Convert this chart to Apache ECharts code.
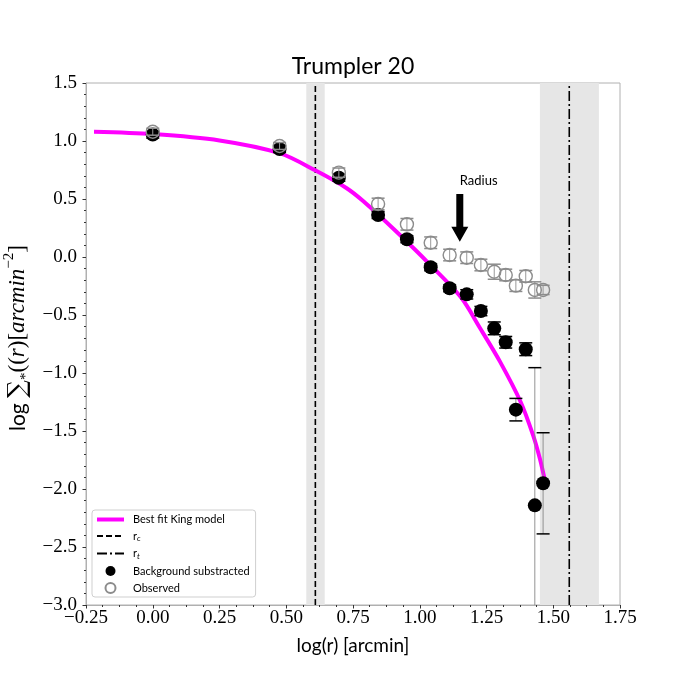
<!DOCTYPE html>
<html lang="en">
<head>
    <meta charset="UTF-8">
    <title>Trumpler 20</title>
    <script src="https://cdn.jsdelivr.net/npm/echarts@6/dist/echarts.min.js"></script>
    <style>
        html, body { margin: 0; padding: 0; background: #fff; }
        #main { width: 689px; height: 689px; }
    </style>
</head>
<body>
<div id="main"></div>
<script>
    // radial profile, x = log(r) [arcmin]
    var logR = [0.0, 0.475, 0.697, 0.844, 0.952, 1.041, 1.112, 1.176, 1.229, 1.279, 1.322, 1.36, 1.397, 1.431, 1.462];
    // background substracted density + errors
    var bgSub = [1.055, 0.931, 0.683, 0.362, 0.153, -0.089, -0.270, -0.322, -0.466, -0.615, -0.735, -1.316, -0.795, -2.141, -1.951];
    var bgSubErr = [0.03, 0.03, 0.03, 0.03, 0.03, 0.03, 0.03, 0.04, 0.04, 0.055, 0.05, 0.097, 0.055, 1.187, 0.436];
    // observed density + errors
    var observed = [1.08, 0.957, 0.727, 0.457, 0.282, 0.123, 0.017, -0.006, -0.069, -0.127, -0.155, -0.247, -0.166, -0.284, -0.284];
    var observedErr = [0.03, 0.03, 0.04, 0.05, 0.05, 0.05, 0.05, 0.05, 0.05, 0.065, 0.05, 0.05, 0.05, 0.07, 0.04];

    // King model curve
    var kingX = [-0.22, 0.0, 0.25, 0.475, 0.61, 0.725, 0.789, 0.914, 1.038, 1.155, 1.225, 1.30, 1.378, 1.425, 1.45, 1.47];
    var kingY = [1.08, 1.06, 1.005, 0.895, 0.745, 0.595, 0.48, 0.215, -0.065, -0.35, -0.61, -0.9, -1.25, -1.54, -1.74, -1.94];

    // core / tidal radius and their uncertainty bands
    var rc = [0.609, 0.575, 0.644];
    var rt = [1.560, 1.450, 1.671];
    // "Radius" arrow: x, start y, tip y, text y
    var radiusArrow = [1.15, 0.543, 0.132, 0.655];

    var xTicks = [-0.25, 1.75, 0.25];
    var yTicks = [-3.0, 1.5, 0.5];

    function minus(s) { return s.replace('-', '\u2212'); }

    var blackPts = logR.map(function (x, i) { return [x, bgSub[i]]; });
    var obsPts = logR.map(function (x, i) { return [x, observed[i]]; });
    var blackErr = logR.map(function (x, i) { return [x, bgSub[i], bgSubErr[i]]; });
    var obsErrData = logR.map(function (x, i) { return [x, observed[i], observedErr[i]]; });
    var kingPts = kingX.map(function (x, i) { return [x, kingY[i]]; });

    function errorBar(lineColor, lineW, capColor, capW, capHalf) {
        return function (params, api) {
            var x = api.value(0), y = api.value(1), e = api.value(2);
            var hi = Math.min(y + e, yTicks[1]);
            var lo = Math.max(y - e, yTicks[0]);
            var pHi = api.coord([x, hi]);
            var pLo = api.coord([x, lo]);
            var kids = [{
                type: 'line',
                shape: {x1: pHi[0], y1: pHi[1], x2: pLo[0], y2: pLo[1]},
                style: {stroke: lineColor, lineWidth: lineW}
            }];
            if (y + e <= yTicks[1]) {
                kids.push({type: 'line', shape: {x1: pHi[0] - capHalf, y1: pHi[1], x2: pHi[0] + capHalf, y2: pHi[1]},
                    style: {stroke: capColor, lineWidth: capW}});
            }
            if (y - e >= yTicks[0]) {
                kids.push({type: 'line', shape: {x1: pLo[0] - capHalf, y1: pLo[1], x2: pLo[0] + capHalf, y2: pLo[1]},
                    style: {stroke: capColor, lineWidth: capW}});
            }
            return {type: 'group', children: kids};
        };
    }

    var myChart = echarts.init(document.getElementById('main'));

    var option = {
        animation: false,
        backgroundColor: '#fff',
        grid: {left: 86, right: 69, top: 83, bottom: 84, show: true, borderColor: '#b0b0b0', borderWidth: 1},
        legend: {
            orient: 'vertical',
            left: 92,
            top: 510,
            itemWidth: 27,
            itemHeight: 10,
            itemGap: 5.5,
            padding: [4, 6, 3, 3],
            borderColor: '#cfcfcf',
            borderWidth: 1,
            borderRadius: 3,
            backgroundColor: '#fff',
            textStyle: {
                fontFamily: 'Lato', fontSize: 11, color: '#000', padding: [0, 0, 0, 4],
                rich: {
                    s: {fontFamily: 'Lato', fontSize: 8, fontStyle: 'italic', verticalAlign: 'bottom', lineHeight: 13, color: '#000'},
                    n: {fontFamily: 'Lato', fontSize: 11, lineHeight: 13, color: '#000'}
                }
            },
            formatter: function (name) {
                if (name === 'r_c') return '{n|r}{s|c}';
                if (name === 'r_t') return '{n|r}{s|t}';
                return name;
            },
            data: [
                {name: 'Best fit King model', itemStyle: {opacity: 0}, lineStyle: {width: 4}},
                {name: 'r_c', itemStyle: {opacity: 0}},
                {name: 'r_t', itemStyle: {opacity: 0}},
                'Background substracted',
                'Observed'
            ]
        },
        xAxis: {
            type: 'value',
            min: xTicks[0],
            max: xTicks[1],
            interval: xTicks[2],
            name: 'log(r) [arcmin]',
            nameLocation: 'middle',
            nameGap: 31,
            nameTextStyle: {fontFamily: 'Lato', fontSize: 19, color: '#000'},
            splitLine: {show: false},
            axisLine: {onZero: false, lineStyle: {color: '#b0b0b0'}},
            axisTick: {length: 3.5, lineStyle: {color: '#333'}},
            minorTick: {show: true, splitNumber: 4, length: 2, lineStyle: {color: '#333'}},
            axisLabel: {
                margin: 4,
                fontFamily: 'Liberation Serif',
                fontSize: 19,
                color: '#000',
                formatter: function (v) { return minus(v.toFixed(2)); }
            }
        },
        yAxis: {
            type: 'value',
            min: yTicks[0],
            max: yTicks[1],
            interval: yTicks[2],
            splitLine: {show: false},
            axisLine: {show: true, onZero: false, lineStyle: {color: '#b0b0b0'}},
            axisTick: {show: true, length: 3.5, lineStyle: {color: '#333'}},
            minorTick: {show: true, splitNumber: 5, length: 2, lineStyle: {color: '#333'}},
            axisLabel: {
                margin: 9,
                fontFamily: 'Liberation Serif',
                fontSize: 19,
                color: '#000',
                formatter: function (v) { return minus(v.toFixed(1)); }
            }
        },
        graphic: [{
            type: 'text',
            x: 353,
            y: 67,
            style: {text: 'Trumpler 20', fill: '#000', fontFamily: 'Lato', fontSize: 23,
                align: 'center', verticalAlign: 'middle'}
        }, {
            type: 'text',
            x: 18,
            y: 338,
            rotation: Math.PI / 2,
            style: {
                text: '{a|log }{s|\u2211}{sub|*}{b|((}{i|r}{b|)[}{i|arcmin}{sup|\u22122}{b|]}',
                align: 'center',
                verticalAlign: 'middle',
                fill: '#000',
                rich: {
                    a: {fontFamily: 'Lato', fontSize: 21, lineHeight: 32, verticalAlign: 'middle'},
                    s: {fontFamily: 'DejaVu Serif', fontSize: 25, lineHeight: 32, verticalAlign: 'middle'},
                    b: {fontFamily: 'Liberation Serif', fontSize: 23, lineHeight: 32, verticalAlign: 'middle'},
                    i: {fontFamily: 'Liberation Serif', fontStyle: 'italic', fontSize: 23, lineHeight: 32, verticalAlign: 'middle'},
                    sub: {fontFamily: 'Liberation Serif', fontSize: 15, lineHeight: 32, verticalAlign: 'bottom'},
                    sup: {fontFamily: 'Liberation Serif', fontSize: 15, lineHeight: 32, verticalAlign: 'top'}
                }
            }
        }],
        series: [
            {
                // shaded uncertainty bands
                type: 'custom',
                silent: true,
                z: 0,
                data: [[rc[1], rc[2]], [rt[1], rt[2]]],
                renderItem: function (params, api) {
                    var a = api.coord([api.value(0), yTicks[1]]);
                    var b = api.coord([api.value(1), yTicks[0]]);
                    return {type: 'rect', shape: {x: a[0], y: a[1], width: b[0] - a[0], height: b[1] - a[1]},
                        style: {fill: '#e6e6e6'}};
                }
            },
            {
                name: 'r_c',
                type: 'line',
                z: 1,
                symbol: 'none',
                data: [[rc[0], yTicks[0]], [rc[0], yTicks[1]]],
                lineStyle: {color: '#000', width: 1.6, type: [6, 3]},
                itemStyle: {color: '#000'}
            },
            {
                name: 'r_t',
                type: 'line',
                z: 1,
                symbol: 'none',
                data: [[rt[0], yTicks[0]], [rt[0], yTicks[1]]],
                lineStyle: {color: '#000', width: 1.6, type: [10, 3, 2, 3]},
                itemStyle: {color: '#000'}
            },
            {
                name: 'Best fit King model',
                type: 'line',
                z: 2,
                symbol: 'none',
                smooth: 0.3,
                data: kingPts,
                lineStyle: {color: '#ff00ff', width: 4},
                itemStyle: {color: '#ff00ff'}
            },
            {
                type: 'custom',
                z: 3,
                data: blackErr,
                renderItem: errorBar('#888', 0.9, '#000', 1.5, 6.5)
            },
            {
                name: 'Background substracted',
                type: 'scatter',
                z: 4,
                symbol: 'circle',
                symbolSize: 14,
                data: blackPts,
                itemStyle: {color: '#000', opacity: 1}
            },
            {
                type: 'custom',
                z: 5,
                data: obsErrData,
                renderItem: errorBar('#999', 1, '#8c8c8c', 1.5, 6.5)
            },
            {
                name: 'Observed',
                type: 'scatter',
                z: 6,
                symbol: 'circle',
                symbolSize: 13,
                data: obsPts,
                itemStyle: {color: 'rgba(255,255,255,0)', borderColor: '#8c8c8c', borderWidth: 1.4, opacity: 1}
            },
            {
                // "Radius" annotation arrow
                type: 'custom',
                z: 7,
                silent: true,
                data: [radiusArrow],
                renderItem: function (params, api) {
                    var top = api.coord([api.value(0), api.value(1)]);
                    var tip = api.coord([api.value(0), api.value(2)]);
                    var txt = api.coord([api.value(0), api.value(3)]);
                    var cx = top[0], head = 15, hw = 8.5, sw = 3.5;
                    return {
                        type: 'group',
                        children: [{
                            type: 'polygon',
                            shape: {points: [[cx - sw, top[1]], [cx + sw, top[1]], [cx + sw, tip[1] - head],
                                [cx + hw, tip[1] - head], [cx, tip[1]], [cx - hw, tip[1] - head], [cx - sw, tip[1] - head]]},
                            style: {fill: '#000'}
                        }, {
                            type: 'text',
                            x: cx,
                            y: txt[1],
                            style: {text: 'Radius', fill: '#000', fontFamily: 'Lato', fontSize: 13,
                                align: 'left', verticalAlign: 'middle'}
                        }]
                    };
                }
            }
        ]
    };

    myChart.setOption(option);
</script>
</html>
